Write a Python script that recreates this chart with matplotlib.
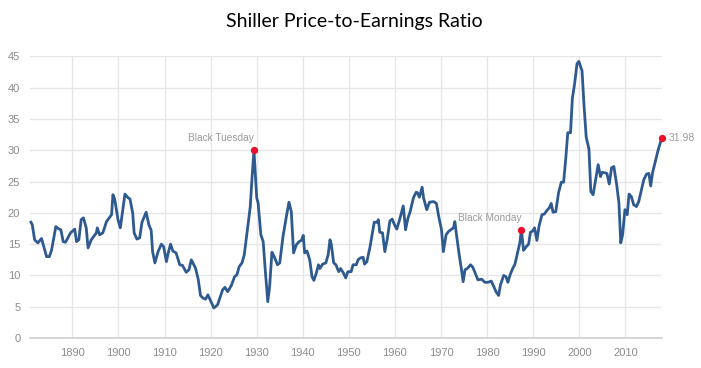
import numpy as np
import matplotlib
matplotlib.use('Agg')
import matplotlib.pyplot as plt

# Shiller CAPE
years = [1881.0, 1881.3, 1881.8, 1882.5, 1883.3, 1884.4, 1885.0, 1885.5, 1886.4, 1887.1,
         1887.5, 1888.0, 1888.5, 1889.6, 1890.5, 1890.9, 1891.4, 1891.9, 1892.4, 1893.0,
         1893.4, 1894.1, 1895.2, 1895.4, 1895.9, 1896.6, 1897.4, 1898.5, 1898.8, 1899.2,
         1899.9, 1900.4, 1901.4, 1902.1, 1902.5, 1903.1, 1903.4, 1904.0, 1904.6, 1905.1,
         1906.0, 1906.6, 1907.1, 1907.4, 1907.9, 1908.6, 1909.3, 1909.8, 1910.4, 1910.8,
         1911.3, 1911.8, 1912.5, 1913.3, 1913.9, 1914.7, 1915.3, 1915.8, 1916.7, 1917.3,
         1917.8, 1918.3, 1918.9, 1919.4, 1920.2, 1920.7, 1921.5, 1922.6, 1923.1, 1923.7,
         1924.5, 1925.2, 1925.7, 1926.2, 1926.8, 1927.3, 1927.9, 1928.6, 1929.0, 1929.4,
         1930.0, 1930.3, 1930.9, 1931.4, 1931.9, 1932.4, 1932.8, 1933.3, 1933.8, 1934.5,
         1935.0, 1935.7, 1936.5, 1937.0, 1937.5, 1937.8, 1938.0, 1938.6, 1939.2, 1939.7,
         1940.1, 1940.4, 1940.9, 1941.5, 1942.0, 1942.4, 1942.9, 1943.4, 1943.7, 1944.3,
         1945.0, 1945.5, 1945.9, 1946.2, 1946.7, 1947.2, 1947.5, 1947.8, 1948.2, 1948.8,
         1949.3, 1949.8, 1950.5, 1950.9, 1951.6, 1952.0, 1952.5, 1953.1, 1953.4, 1953.9,
         1954.6, 1955.5, 1956.1, 1956.4, 1956.7, 1957.3, 1957.8, 1958.3, 1958.9, 1959.4,
         1959.9, 1960.4, 1961.0, 1961.8, 1962.3, 1962.8, 1963.3, 1964.0, 1964.6, 1964.9,
         1965.3, 1965.9, 1966.2, 1966.9, 1967.5, 1968.4, 1969.0, 1969.5, 1970.1, 1970.5,
         1971.1, 1971.6, 1972.3, 1972.7, 1973.0, 1973.4, 1974.0, 1974.5, 1974.8, 1975.2,
         1975.7, 1976.4, 1976.9, 1977.4, 1978.0, 1978.8, 1979.5, 1980.2, 1980.9, 1981.4,
         1982.0, 1982.5, 1982.9, 1983.6, 1984.1, 1984.5, 1985.0, 1985.6, 1986.0, 1986.5,
         1987.1, 1987.45, 1987.9, 1988.5, 1989.0, 1989.4, 1989.9, 1990.3, 1990.8, 1991.3,
         1991.9, 1992.4, 1993.0, 1993.5, 1993.9, 1994.3, 1994.9, 1995.5, 1996.1, 1996.6,
         1997.1, 1997.5, 1998.1, 1998.5, 1999.0, 1999.5, 1999.9, 2000.6, 2001.0, 2001.5,
         2002.1, 2002.5, 2003.0, 2003.6, 2004.1, 2004.6, 2005.0, 2005.5, 2006.0, 2006.5,
         2007.0, 2007.5, 2008.1, 2008.6, 2009.0, 2009.4, 2009.9, 2010.4, 2010.8, 2011.3,
         2011.8, 2012.4, 2012.9, 2013.5, 2014.0, 2014.6, 2015.1, 2015.5, 2015.9, 2016.4,
         2017.1, 2017.9]
pe = [18.5, 18.1, 15.7, 15.2, 15.9, 13.0, 13.0, 14.1, 17.8, 17.4,
      17.3, 15.4, 15.3, 16.8, 17.4, 15.4, 15.7, 18.9, 19.2, 17.6,
      14.4, 15.7, 16.8, 17.6, 16.5, 16.8, 18.6, 19.7, 22.9, 22.1,
      18.9, 17.6, 23.0, 22.4, 22.2, 19.9, 16.8, 15.8, 16.0, 18.5,
      20.1, 18.1, 17.2, 13.8, 12.0, 13.8, 15.0, 14.6, 12.2, 13.6,
      15.0, 13.9, 13.6, 11.7, 11.6, 10.5, 10.9, 12.5, 11.2, 9.4,
      6.8, 6.4, 6.2, 6.9, 5.6, 4.8, 5.3, 7.7, 8.1, 7.4,
      8.4, 9.8, 10.1, 11.4, 12.0, 13.3, 16.8, 21.0, 25.8, 30.0,
      22.4, 21.6, 16.5, 15.4, 10.4, 5.8, 8.2, 13.7, 13.0, 11.7,
      12.0, 16.2, 19.7, 21.7, 20.2, 16.2, 13.6, 14.9, 15.4, 15.6,
      16.4, 13.6, 13.9, 12.5, 9.8, 9.2, 10.3, 11.7, 11.1, 11.8,
      12.0, 13.3, 15.7, 14.9, 12.0, 11.7, 11.1, 10.6, 11.1, 10.4,
      9.6, 10.6, 10.6, 11.7, 11.7, 12.5, 12.8, 12.9, 11.8, 12.2,
      14.6, 18.5, 18.5, 18.9, 16.9, 16.8, 13.8, 15.7, 18.7, 19.0,
      18.1, 17.4, 18.9, 21.1, 17.3, 19.1, 20.2, 22.4, 23.3, 23.2,
      22.5, 24.1, 22.4, 20.5, 21.7, 21.8, 21.5, 19.4, 17.3, 13.8,
      16.5, 17.0, 17.4, 17.6, 18.6, 16.2, 13.0, 10.6, 9.0, 10.9,
      11.1, 11.7, 11.3, 10.4, 9.3, 9.4, 8.9, 8.9, 9.1, 8.3,
      7.3, 6.8, 8.5, 10.0, 9.8, 8.9, 10.1, 11.2, 11.7, 13.3,
      15.2, 17.3, 14.0, 14.6, 15.0, 16.9, 17.1, 17.6, 15.6, 18.0,
      19.7, 19.8, 20.4, 20.8, 21.5, 20.1, 20.2, 23.2, 24.9, 24.9,
      29.0, 32.8, 32.8, 38.3, 40.7, 43.8, 44.2, 42.7, 37.5, 32.1,
      30.2, 23.4, 22.9, 25.5, 27.7, 25.8, 26.5, 26.4, 26.3, 24.6,
      27.2, 27.4, 24.6, 21.6, 15.2, 16.5, 20.5, 19.7, 23.0, 22.6,
      21.3, 21.0, 21.8, 23.7, 25.3, 26.2, 26.3, 24.3, 26.4, 27.9,
      30.0, 31.98]

events = ['Black Tuesday', 'Black Monday']
event_years = [1929.4, 1987.45]
event_pe = [30.0, 17.3]

fig = plt.figure(figsize=(7.01, 3.68), dpi=100)
ax = fig.add_axes([30 / 701, 30 / 368, 632 / 701, 281.6 / 368])

grid_c = '#e6e6e6'
ax.set_xlim(1880.8, 2017.95)
ax.set_ylim(0, 45)
ax.set_yticks(range(0, 50, 5))
ax.set_xticks(range(1890, 2020, 10))
ax.grid(True, color=grid_c, linewidth=1)
ax.set_axisbelow(True)
for s in ['top', 'right', 'left']:
    ax.spines[s].set_visible(False)
ax.spines['bottom'].set_color('#d0d0d0')
ax.spines['bottom'].set_linewidth(1.2)
ax.tick_params(length=0, labelsize=8, labelcolor='#8c8c8c', pad=7)
for lab in ax.get_xticklabels() + ax.get_yticklabels():
    lab.set_fontfamily('Liberation Sans')

ax.plot(years, pe, color='#2e5a8f', linewidth=2.0, solid_joinstyle='round', clip_on=False, zorder=3)

ax.scatter(event_years + [years[-1]], event_pe + [pe[-1]], s=18, color='#e8112d', zorder=4, clip_on=False)
for name, x, y in zip(events, event_years, event_pe):
    ax.annotate(name, (x, y), xytext=(0, 5), textcoords='offset points', ha='right', va='bottom',
                fontsize=7.3, color='#9a9a9a', family='Liberation Sans')
ax.annotate(f'{pe[-1]:.2f}', (years[-1], pe[-1]), xytext=(5, 0), textcoords='offset points',
            ha='left', va='center', fontsize=7.5, color='#9a9a9a', family='Liberation Sans',
            annotation_clip=False)

fig.text(354 / 701, 1 - 21 / 368, 'Shiller Price-to-Earnings Ratio', ha='center', va='center',
         fontsize=14, family='Lato', color='black')

fig.savefig('out.png', dpi=100)
